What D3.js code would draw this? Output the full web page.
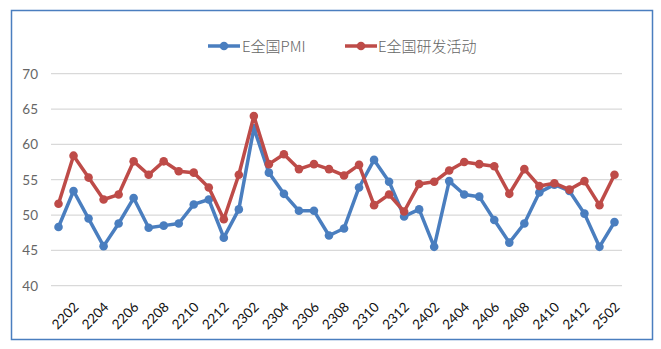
<!DOCTYPE html>
<html>
<head>
<meta charset="utf-8">
<script src="https://cdn.jsdelivr.net/npm/d3@7"></script>
<style>
  html, body { margin: 0; padding: 0; background: #fff; }
  svg { display: block; }
</style>
</head>
<body>
<svg id="chart" width="661" height="349"></svg>
<script>
const categories = [
  "2201","2202","2203","2204","2205","2206","2207","2208","2209","2210","2211","2212",
  "2301","2302","2303","2304","2305","2306","2307","2308","2309","2310","2311","2312",
  "2401","2402","2403","2404","2405","2406","2407","2408","2409","2410","2411","2412",
  "2501","2502"
];
const pmiValues = [
  48.3, 53.4, 49.5, 45.6, 48.8, 52.4, 48.2, 48.5, 48.8, 51.5, 52.2, 46.8,
  50.8, 62.3, 56.0, 53.0, 50.6, 50.6, 47.1, 48.1, 53.9, 57.8, 54.7, 49.8,
  50.8, 45.5, 54.8, 52.9, 52.6, 49.3, 46.1, 48.8, 53.2, 54.3, 53.4, 50.2,
  45.5, 49.0
];
const rdValues = [
  51.6, 58.4, 55.3, 52.2, 52.9, 57.6, 55.7, 57.6, 56.2, 56.0, 53.9, 49.4,
  55.7, 64.0, 57.2, 58.6, 56.5, 57.2, 56.5, 55.6, 57.1, 51.4, 52.9, 50.5,
  54.4, 54.7, 56.3, 57.5, 57.2, 56.9, 53.0, 56.5, 54.1, 54.5, 53.6, 54.8,
  51.4, 55.7
];
const seriesNames = ["E全国PMI", "E全国研发活动"];
const seriesColors = ["#4a7ebf", "#be4b48"];
const yTicks = [40, 45, 50, 55, 60, 65, 70];

const svg = d3.select("#chart");

// outer frame
svg.append("rect")
  .attr("x", 11.5).attr("y", 10.5)
  .attr("width", 641).attr("height", 329)
  .attr("fill", "#fff")
  .attr("stroke", "#4a7ebf")
  .attr("stroke-width", 1.5);

const x = d3.scaleBand().domain(categories).range([51, 622]).padding(0);
const y = d3.scaleLinear().domain([40, 70]).range([285.7, 73.7]);

// gridlines
svg.append("g")
  .selectAll("line")
  .data(yTicks)
  .join("line")
  .attr("x1", 51).attr("x2", 622)
  .attr("y1", d => y(d)).attr("y2", d => y(d))
  .attr("stroke", "#d9d9d9")
  .attr("stroke-width", 1.2);

// y axis labels
const yAxis = d3.axisLeft(y).tickValues(yTicks).tickSize(0).tickPadding(0);
const yG = svg.append("g").attr("transform", "translate(38,0)").call(yAxis);
yG.select(".domain").remove();
yG.selectAll("text")
  .attr("fill", "#666")
  .style("font-family", "Lato, 'Liberation Sans', sans-serif")
  .style("font-size", "13.5px");

// x axis labels (every other category)
const xAxis = d3.axisBottom(x)
  .tickValues(categories.filter((d, i) => i % 2 === 1))
  .tickSize(0).tickPadding(0);
const xG = svg.append("g").attr("transform", "translate(0,292)").call(xAxis);
xG.select(".domain").remove();
xG.selectAll("text")
  .attr("fill", "#111")
  .attr("text-anchor", "end")
  .attr("dy", 0)
  .attr("transform", "translate(6,16) rotate(-45)")
  .style("font-family", "Lato, 'Liberation Sans', sans-serif")
  .style("font-size", "13.5px");

const cx = d => x(d) + x.bandwidth() / 2;
const allSeries = [pmiValues, rdValues];

allSeries.forEach((vals, si) => {
  const pts = categories.map((c, i) => [cx(c), y(vals[i])]);
  svg.append("path")
    .attr("d", d3.line()(pts))
    .attr("fill", "none")
    .attr("stroke", seriesColors[si])
    .attr("stroke-width", 3.5)
    .attr("stroke-linejoin", "round");
  svg.append("g")
    .selectAll("circle")
    .data(pts)
    .join("circle")
    .attr("cx", d => d[0]).attr("cy", d => d[1])
    .attr("r", 4.3)
    .attr("fill", seriesColors[si]);
});

// legend
const legendItems = [
  { x0: 208, tx: 242 },
  { x0: 345, tx: 378 }
];
legendItems.forEach((it, i) => {
  const g = svg.append("g");
  g.append("line")
    .attr("x1", it.x0).attr("x2", it.x0 + 32)
    .attr("y1", 46).attr("y2", 46)
    .attr("stroke", seriesColors[i]).attr("stroke-width", 3.5);
  g.append("circle")
    .attr("cx", it.x0 + 16).attr("cy", 46).attr("r", 4.3)
    .attr("fill", seriesColors[i]);
  g.append("text")
    .attr("x", it.tx).attr("y", 51.5)
    .attr("fill", "#666")
    .style("font-family", "'Noto Sans CJK SC', sans-serif")
    .style("font-size", "15px")
    .style("font-weight", 300)
    .text(seriesNames[i]);
});
</script>
</body>
</html>
